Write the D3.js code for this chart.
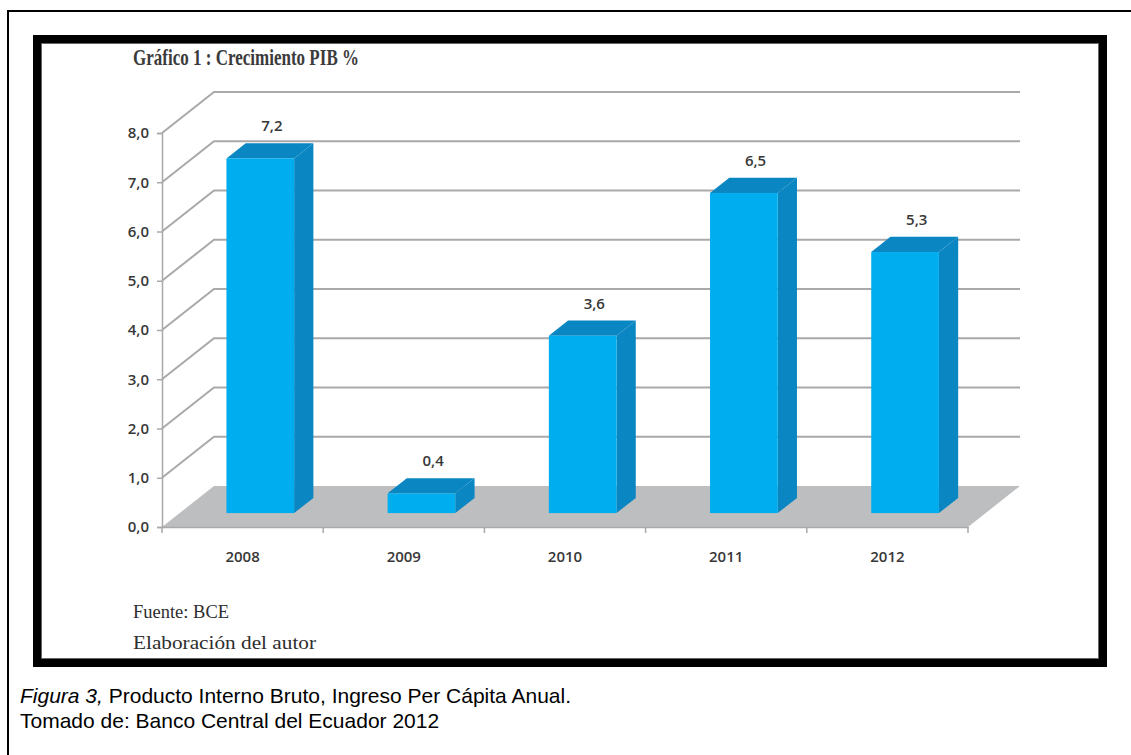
<!DOCTYPE html>
<html>
<head>
<meta charset="utf-8">
<script src="https://cdn.jsdelivr.net/npm/d3@7"></script>
<style>
  html, body { margin: 0; padding: 0; background: #fff; }
  svg { display: block; }
</style>
</head>
<body>
<svg id="chart" width="1131" height="755"></svg>
<script>
// Crecimiento del PIB de Ecuador (%), 2008-2012
const years = ["2008", "2009", "2010", "2011", "2012"];
const growth = [7.2, 0.4, 3.6, 6.5, 5.3];
const yTicks = [0, 1, 2, 3, 4, 5, 6, 7, 8];

const es = d3.formatLocale({ decimal: ",", thousands: ".", grouping: [3], currency: ["$", ""] });
const fmt = es.format(".1f");

const svg = d3.select("#chart");

// page frame and the framed figure
svg.append("rect").attr("x", 8).attr("y", 11).attr("width", 1140).attr("height", 760)
  .attr("fill", "none").attr("stroke", "#000").attr("stroke-width", 2);
svg.append("rect").attr("x", 37).attr("y", 39).attr("width", 1066).attr("height", 624)
  .attr("fill", "#fff").attr("stroke", "#000").attr("stroke-width", 8);
svg.append("rect").attr("x", 41.5).attr("y", 43.5).attr("width", 1057).attr("height", 615)
  .attr("fill", "none").attr("stroke", "#666").attr("stroke-width", 1);

// scales for the front plane of the 3D plot
const x = d3.scaleBand().domain(years).range([162, 968]).paddingInner(0).paddingOuter(0);
const y = d3.scaleLinear().domain([0, 8]).range([527, 133]);

// oblique depth offset (full depth of the plot box)
const DX = 52, DY = -41;
const proj = (px, py, d) => [px + DX * d, py + DY * d];

const g = svg.append("g");
const gridColor = "#a9a9a9";
const labelFont = "'Open Sans', sans-serif";

// floor
const floorPts = [proj(x.range()[0], y(0), 0), proj(x.range()[0], y(0), 1),
                  proj(x.range()[1], y(0), 1), proj(x.range()[1], y(0), 0)];
g.append("polygon").attr("points", floorPts.map(p => p.join(",")).join(" "))
  .attr("fill", "#bdbec0");

// back-wall gridlines and the side-wall diagonals
yTicks.filter(v => v > 0).forEach(v => {
  const a = proj(x.range()[0], y(v), 0);
  const b = proj(x.range()[0], y(v), 1);
  const c = proj(x.range()[1], y(v), 1);
  g.append("path").attr("d", d3.line()([a, b, c]))
    .attr("fill", "none").attr("stroke", gridColor).attr("stroke-width", 2);
});

// front y axis
const yAxis = d3.axisLeft(y).tickValues(yTicks).tickFormat(fmt).tickSize(5).tickPadding(8);
const ya = g.append("g").attr("transform", `translate(${x.range()[0]},0)`).call(yAxis);
ya.select(".domain").attr("stroke", gridColor).attr("stroke-width", 1.5);
ya.selectAll(".tick line").attr("stroke", gridColor).attr("stroke-width", 1.5);
ya.selectAll(".tick text")
  .attr("font-family", labelFont).attr("font-size", 15).attr("font-weight", 600)
  .attr("fill", "#383838");

// front x axis
const xAxis = d3.axisBottom(x).tickSize(0).tickPadding(24);
const xa = g.append("g").attr("transform", `translate(0,${y(0)})`).call(xAxis);
xa.select(".domain").attr("stroke", gridColor).attr("stroke-width", 1.5);
xa.selectAll(".tick text")
  .attr("font-family", labelFont).attr("font-size", 15).attr("font-weight", 600)
  .attr("fill", "#383838");
// category boundary ticks
const bounds = years.map(d => x(d)).concat([x.range()[1]]);
xa.selectAll("line.sep").data(bounds).join("line").attr("class", "sep")
  .attr("x1", d => d).attr("x2", d => d).attr("y1", 0).attr("y2", 6)
  .attr("stroke", gridColor).attr("stroke-width", 1.5);

// 3D bars
const d0 = 0.34, d1 = 0.71;
const barW = x.bandwidth() * 0.42;
const front = "#00aeef", dark = "#0a86c2";

years.forEach((yr, i) => {
  const v = growth[i];
  const xl = x(yr) + (x.bandwidth() - barW) / 2;
  const xr = xl + barW;
  const fb = y(0), ft = y(v);
  const p = (px, py, d) => proj(px, py, d);
  const bar = g.append("g");
  // side face
  bar.append("polygon").attr("fill", dark)
    .attr("points", [p(xr, ft, d0), p(xr, ft, d1), p(xr, fb, d1), p(xr, fb, d0)].map(q => q.join(",")).join(" "));
  // top face
  bar.append("polygon").attr("fill", dark)
    .attr("points", [p(xl, ft, d0), p(xl, ft, d1), p(xr, ft, d1), p(xr, ft, d0)].map(q => q.join(",")).join(" "));
  // front face
  const f0 = p(xl, ft, d0), f1 = p(xr, fb, d0);
  bar.append("rect").attr("fill", front)
    .attr("x", f0[0]).attr("y", f0[1]).attr("width", f1[0] - f0[0]).attr("height", f1[1] - f0[1]);
  // value label over the centre of the top face
  const c = p((xl + xr) / 2, ft, (d0 + d1) / 2);
  const topBack = p(xl, ft, d1);
  g.append("text").attr("x", c[0] + 2).attr("y", topBack[1] - 12)
    .attr("text-anchor", "middle")
    .attr("font-family", labelFont).attr("font-size", 15).attr("font-weight", 600)
    .attr("fill", "#383838").text(fmt(v));
});

// titles and notes
svg.append("text").attr("x", 133).attr("y", 65)
  .attr("font-family", "'Liberation Serif', serif").attr("font-size", 23).attr("font-weight", 700)
  .attr("fill", "#3b3b3b").attr("textLength", 226).attr("lengthAdjust", "spacingAndGlyphs")
  .text("Gráfico 1 : Crecimiento PIB %");
svg.append("text").attr("x", 133).attr("y", 618)
  .attr("font-family", "'Liberation Serif', serif").attr("font-size", 19)
  .attr("fill", "#2e2e2e").attr("textLength", 96).attr("lengthAdjust", "spacingAndGlyphs")
  .text("Fuente: BCE");
svg.append("text").attr("x", 133).attr("y", 649)
  .attr("font-family", "'Liberation Serif', serif").attr("font-size", 19)
  .attr("fill", "#2e2e2e").attr("textLength", 183).attr("lengthAdjust", "spacingAndGlyphs")
  .text("Elaboración del autor");

// figure caption
const cap = svg.append("text").attr("x", 20).attr("y", 703)
  .attr("font-family", "'Liberation Sans', Arial, sans-serif").attr("font-size", 21).attr("fill", "#000");
cap.append("tspan").attr("font-style", "italic").text("Figura 3,");
cap.append("tspan").text(" Producto Interno Bruto, Ingreso Per Cápita Anual.");
svg.append("text").attr("x", 20).attr("y", 728)
  .attr("font-family", "'Liberation Sans', Arial, sans-serif").attr("font-size", 21).attr("fill", "#000")
  .text("Tomado de: Banco Central del Ecuador 2012");
</script>
</body>
</html>
